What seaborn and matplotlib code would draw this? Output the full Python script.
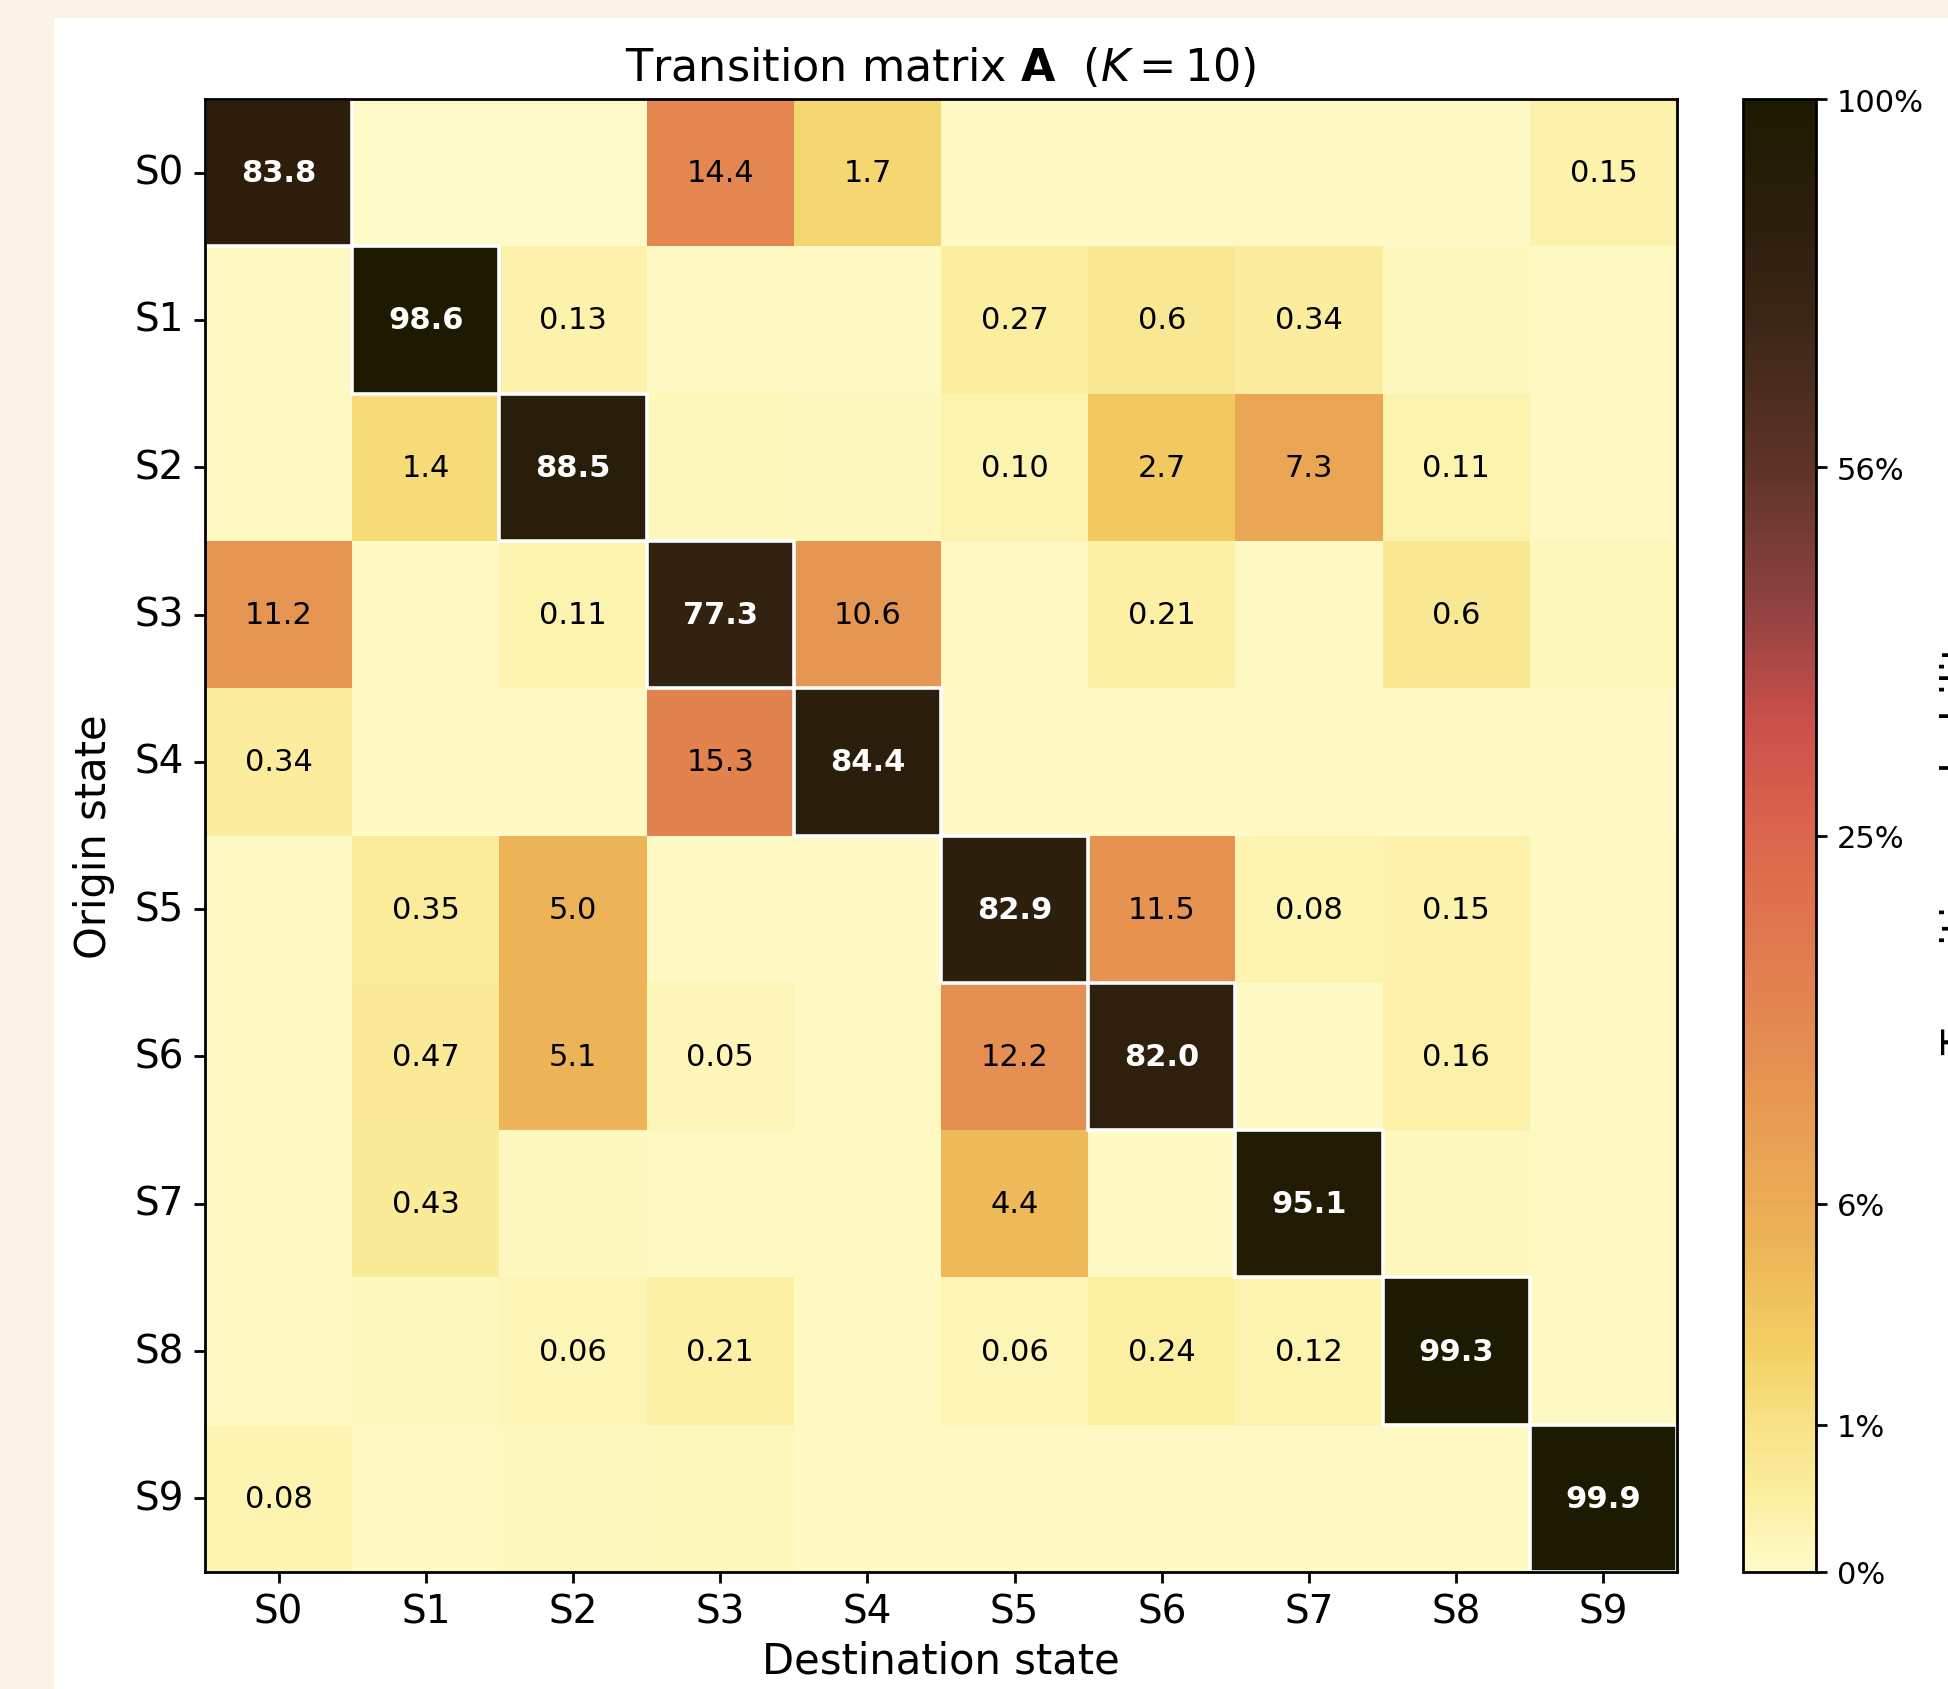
import numpy as np
import matplotlib
matplotlib.use("Agg")
import matplotlib.pyplot as plt
from matplotlib.colors import LinearSegmentedColormap, PowerNorm
from matplotlib.patches import Rectangle
import seaborn as sns

states = ["S0", "S1", "S2", "S3", "S4", "S5", "S6", "S7", "S8", "S9"]

# transition probabilities in percent (row = origin, column = destination)
probs_pct = np.array([
    [83.8, 0.0, 0.0, 14.4, 1.7, 0.005, 0.005, 0.005, 0.005, 0.15],
    [0.01, 98.6, 0.13, 0.01, 0.01, 0.27, 0.6, 0.34, 0.02, 0.01],
    [0.01, 1.4, 88.5, 0.03, 0.02, 0.10, 2.7, 7.3, 0.11, 0.01],
    [11.2, 0.01, 0.11, 77.3, 10.6, 0.01, 0.21, 0.01, 0.6, 0.03],
    [0.34, 0.005, 0.005, 15.3, 84.4, 0.005, 0.005, 0.005, 0.005, 0.005],
    [0.005, 0.35, 5.0, 0.005, 0.005, 82.9, 11.5, 0.08, 0.15, 0.01],
    [0.01, 0.47, 5.1, 0.05, 0.01, 12.2, 82.0, 0.005, 0.16, 0.01],
    [0.01, 0.43, 0.02, 0.01, 0.01, 4.4, 0.005, 95.1, 0.02, 0.01],
    [0.01, 0.02, 0.06, 0.21, 0.01, 0.06, 0.24, 0.12, 99.3, 0.01],
    [0.08, 0.01, 0.02, 0.03, 0.01, 0.01, 0.01, 0.01, 0.01, 99.9],
])

# printed cell labels (tiny values are left blank)
cell_labels = [
    ["83.8", "", "", "14.4", "1.7", "", "", "", "", "0.15"],
    ["", "98.6", "0.13", "", "", "0.27", "0.6", "0.34", "", ""],
    ["", "1.4", "88.5", "", "", "0.10", "2.7", "7.3", "0.11", ""],
    ["11.2", "", "0.11", "77.3", "10.6", "", "0.21", "", "0.6", ""],
    ["0.34", "", "", "15.3", "84.4", "", "", "", "", ""],
    ["", "0.35", "5.0", "", "", "82.9", "11.5", "0.08", "0.15", ""],
    ["", "0.47", "5.1", "0.05", "", "12.2", "82.0", "", "0.16", ""],
    ["", "0.43", "", "", "", "4.4", "", "95.1", "", ""],
    ["", "", "0.06", "0.21", "", "0.06", "0.24", "0.12", "99.3", ""],
    ["0.08", "", "", "", "", "", "", "", "", "99.9"],
]

cbar_ticks = [0.0, 0.01, 0.0625, 0.25, 0.5625, 1.0]
cbar_ticklabels = ["0%", "1%", "6%", "25%", "56%", "100%"]

cmap_stops = [0.0, 0.05, 0.10, 0.15, 0.22, 0.30, 0.40, 0.50, 0.58, 0.66, 0.75, 0.85, 0.92, 1.0]
cmap_colors = ["#FFFBC8", "#FBEEA0", "#F7E285", "#F3CF64", "#EDB457", "#E89E54", "#E2804F",
               "#DC664D", "#C94F4B", "#8E4240", "#5E3428", "#3B2616", "#2C1E0C", "#1C1A00"]
cmap = LinearSegmentedColormap.from_list("trans", list(zip(cmap_stops, cmap_colors)))

W, H, DPI = 1948, 1690, 200
fig = plt.figure(figsize=(W / DPI, H / DPI), dpi=DPI, facecolor="#FAF3E6")
fig.add_artist(Rectangle((54 / W, 0), 1, 1 - 19 / H, transform=fig.transFigure,
                         facecolor="white", edgecolor="none", zorder=-1))

ax = fig.add_axes([205 / W, 1 - 1573 / H, (1677 - 205) / W, (1573 - 100) / H])
cax = fig.add_axes([1743 / W, 1 - 1573 / H, (1816 - 1743) / W, (1573 - 100) / H])

sns.heatmap(probs_pct / 100, ax=ax, cbar_ax=cax, cmap=cmap, norm=PowerNorm(0.5, vmin=0, vmax=1),
            annot=np.array(cell_labels), fmt="", annot_kws={"fontsize": 11},
            xticklabels=states, yticklabels=states, square=False)

for t in ax.texts:
    x, y = t.get_position()
    if int(x) == int(y):
        t.set_fontweight("bold")
        t.set_color("white")
    else:
        t.set_color("black")

for i in range(len(states)):
    ax.add_patch(Rectangle((i, i), 1, 1, fill=False, edgecolor="white", lw=1.3))

for s in ax.spines.values():
    s.set_visible(True)
    s.set_color("black")
    s.set_linewidth(1.0)

ax.tick_params(labelsize=14, length=4, width=1)
plt.setp(ax.get_yticklabels(), rotation=0)
plt.setp(ax.get_xticklabels(), rotation=0)
ax.set_xlabel("Destination state", fontsize=15, labelpad=3)
ax.set_ylabel("Origin state", fontsize=15, labelpad=7)
ax.set_title(r"Transition matrix $\mathbf{A}$  $(K=10)$", fontsize=16, pad=7)

cb = ax.collections[0].colorbar
cb.set_ticks(cbar_ticks)
cb.set_ticklabels(cbar_ticklabels)
cb.ax.tick_params(labelsize=11, length=4, width=1)
cb.outline.set_edgecolor("black")
cb.outline.set_linewidth(1.0)
cb.set_label("Transition probability", fontsize=15, labelpad=6)

fig.savefig("out.png", dpi=DPI, facecolor=fig.get_facecolor())
